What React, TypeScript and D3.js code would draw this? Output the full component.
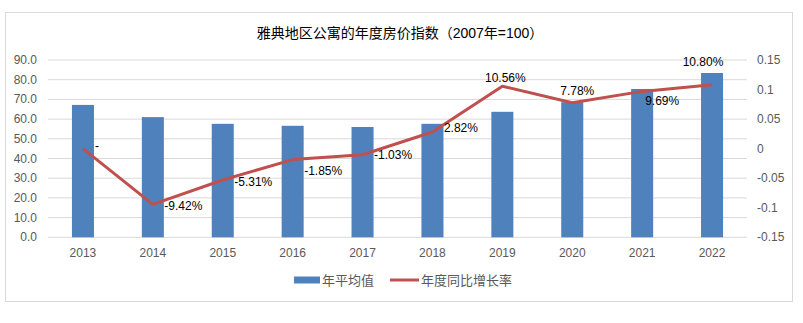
import React from "react";
import * as d3 from "d3";

const years = ["2013", "2014", "2015", "2016", "2017", "2018", "2019", "2020", "2021", "2022"];
const avgValues = [67.2, 61.0, 57.6, 56.6, 56.0, 57.6, 63.7, 68.6, 75.3, 83.4];
const growthRates = [0, -0.0942, -0.0531, -0.0185, -0.0103, 0.0282, 0.1056, 0.0778, 0.0969, 0.108];
const growthLabels = ["-", "-9.42%", "-5.31%", "-1.85%", "-1.03%", "2.82%", "10.56%", "7.78%", "9.69%", "10.80%"];
const leftTicks = [0, 10, 20, 30, 40, 50, 60, 70, 80, 90];
const rightTicks = [-0.15, -0.1, -0.05, 0, 0.05, 0.1, 0.15];
const rightTickLabels = ["-0.15", "-0.1", "-0.05", "0", "0.05", "0.1", "0.15"];
const title = "雅典地区公寓的年度房价指数（2007年=100）";
const seriesNames = ["年平均值", "年度同比增长率"];

const W = 803, H = 323;
const L = 48, R = 747, T = 60, B = 237.3;
const FONT = "'Liberation Sans', 'Noto Sans CJK SC', sans-serif";
// label placement styling: [dx, dy, anchor]
const labelOffsets: [number, number, string][] = [
  [12, 1, "start"],
  [11.5, 6, "start"],
  [11.5, 5.5, "start"],
  [11.5, 15, "start"],
  [11.5, 4.5, "start"],
  [11.5, 0, "start"],
  [3, -4.5, "middle"],
  [5, -7.5, "middle"],
  [3, 13.5, "start"],
  [-9, -18.5, "middle"],
];

export default function App() {
  const x = d3.scaleBand().domain(years).range([L, R]).paddingInner(0).paddingOuter(0);
  const yL = d3.scaleLinear().domain([0, 90]).range([B, T]);
  const yR = d3.scaleLinear().domain([-0.15, 0.15]).range([B, T]);
  const bw = x.bandwidth() * 0.315;
  const cx = (y: string) => (x(y) as number) + x.bandwidth() / 2;
  const line = d3.line<number>().x((_, i) => cx(years[i])).y((d) => yR(d));

  return (
    <svg width={W} height={H} style={{ position: "absolute", left: 0, top: 0, background: "#fff" }} fontFamily={FONT}>
      <rect x={5.5} y={12.5} width={787} height={289} fill="#fff" stroke="#D9D9D9" strokeWidth={1} />
      <text x={400} y={38} textAnchor="middle" fontSize={14} fill="#000">{title}</text>
      {leftTicks.map((t) => (
        <g key={t}>
          <line x1={L} x2={R} y1={yL(t)} y2={yL(t)} stroke="#D9D9D9" strokeWidth={1} />
          <text x={37} y={yL(t) + 4} textAnchor="end" fontSize={12} fill="#595959">{t.toFixed(1)}</text>
        </g>
      ))}
      {rightTicks.map((t, i) => (
        <text key={i} x={757} y={yR(t) + 4} textAnchor="start" fontSize={12} fill="#595959">{rightTickLabels[i]}</text>
      ))}
      {years.map((yr, i) => (
        <rect key={yr} x={cx(yr) - bw / 2} y={yL(avgValues[i])} width={bw} height={B - yL(avgValues[i])} fill="#4F81BD" />
      ))}
      {years.map((yr) => (
        <text key={yr} x={cx(yr)} y={257} textAnchor="middle" fontSize={12} fill="#595959">{yr}</text>
      ))}
      <path d={line(growthRates) || ""} fill="none" stroke="#C0504D" strokeWidth={3} strokeLinejoin="round" />
      {growthRates.map((r, i) => {
        const px = cx(years[i]);
        const py = yR(r);
        const [dx, dy, anchor] = labelOffsets[i];
        return (
          <text key={i} x={px + dx} y={py + dy} textAnchor={anchor} fontSize={12} fill="#000">{growthLabels[i]}</text>
        );
      })}
      <rect x={294} y={276.5} width={26} height={7} fill="#4F81BD" />
      <text x={322} y={284.5} fontSize={13} fill="#595959">{seriesNames[0]}</text>
      <line x1={390} x2={419} y1={280} y2={280} stroke="#C0504D" strokeWidth={3} />
      <text x={421} y={284.5} fontSize={13} fill="#595959">{seriesNames[1]}</text>
    </svg>
  );
}
